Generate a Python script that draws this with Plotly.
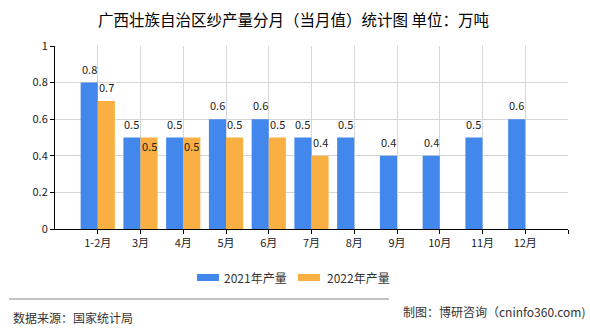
import plotly.graph_objects as go

categories = ["1-2月", "3月", "4月", "5月", "6月", "7月", "8月", "9月", "10月", "11月", "12月"]
values_2021 = [0.8, 0.5, 0.5, 0.6, 0.6, 0.5, 0.5, 0.4, 0.4, 0.5, 0.6]
values_2022 = [0.7, 0.5, 0.5, 0.5, 0.5, 0.4]
y_ticks = [0, 0.2, 0.4, 0.6, 0.8, 1]
y_ticktext = ["0", "0.2", "0.4", "0.6", "0.8", "1"]
series_names = ["2021年产量", "2022年产量"]

BLUE = "#4287EC"
ORANGE = "#F9AF42"
FONT = "Noto Sans CJK SC"

W, H = 590, 330
L, R, T, B = 55, 22, 46, 101
PW, PH = W - L - R, H - T - B


def px(x):
    return (x - L) / PW


def py(y):
    return (H - B - y) / PH


idx21 = list(range(len(values_2021)))
idx22 = list(range(len(values_2022)))

fig = go.Figure()
fig.add_trace(go.Bar(x=idx21, y=values_2021, width=0.4, offset=-0.4,
                     marker=dict(color=BLUE, line=dict(width=0)), name=series_names[0],
                     showlegend=False, hoverinfo="skip"))
fig.add_trace(go.Bar(x=idx22, y=values_2022, width=0.4, offset=0,
                     marker=dict(color=ORANGE, line=dict(width=0)), name=series_names[1],
                     showlegend=False, hoverinfo="skip"))

annotations = []
lab_font = dict(family=FONT, size=11, color="#222")
for i, v in enumerate(values_2021):
    annotations.append(dict(x=i - 0.2, y=v, xref="x", yref="y", text=f"{v:.1f}",
                            showarrow=False, yanchor="bottom", yshift=4, font=lab_font))
for i, v in enumerate(values_2022):
    collide = abs(v - values_2021[i]) < 1e-9
    annotations.append(dict(x=i + 0.2, y=v, xref="x", yref="y", text=f"{v:.1f}",
                            showarrow=False, yanchor="middle" if collide else "bottom",
                            yshift=-8 if collide else 4, font=lab_font))

# title
annotations.append(dict(x=px(293), y=py(19), xref="paper", yref="paper", text="广西壮族自治区纱产量分月（当月值）统计图 单位：万吨",
                        showarrow=False, xanchor="center", yanchor="middle",
                        font=dict(family=FONT, size=15.5, color="#000")))
# legend texts
annotations.append(dict(x=px(222), y=py(277.5), xref="paper", yref="paper", text=series_names[0],
                        showarrow=False, xanchor="left", yanchor="middle",
                        font=dict(family=FONT, size=12, color="#333")))
annotations.append(dict(x=px(325), y=py(277.5), xref="paper", yref="paper", text=series_names[1],
                        showarrow=False, xanchor="left", yanchor="middle",
                        font=dict(family=FONT, size=12, color="#333")))
# source texts
annotations.append(dict(x=px(11), y=py(317), xref="paper", yref="paper", text="数据来源：国家统计局",
                        showarrow=False, xanchor="left", yanchor="middle",
                        font=dict(family=FONT, size=12, color="#333")))
annotations.append(dict(x=px(401), y=py(311), xref="paper", yref="paper", text="制图：博研咨询（cninfo360.com)",
                        showarrow=False, xanchor="left", yanchor="middle",
                        font=dict(family=FONT, size=12, color="#333")))

shapes = [
    dict(type="rect", xref="paper", yref="paper", x0=px(197), x1=px(219), y0=py(281), y1=py(274),
         fillcolor=BLUE, line=dict(width=0)),
    dict(type="rect", xref="paper", yref="paper", x0=px(298), x1=px(320), y0=py(281), y1=py(274),
         fillcolor=ORANGE, line=dict(width=0)),
    dict(type="line", xref="paper", yref="paper", x0=px(9), x1=px(389), y0=py(299), y1=py(299),
         line=dict(color="#888", width=1)),
]

n = len(categories)
fig.update_layout(
    width=W, height=H,
    margin=dict(l=L, r=R, t=T, b=B),
    paper_bgcolor="white", plot_bgcolor="white",
    barmode="overlay",
    showlegend=False,
    annotations=annotations,
    shapes=shapes,
    xaxis=dict(range=[-1, n], tickvals=list(range(n + 1)), ticktext=categories + [""],
               showgrid=True, gridcolor="#d6d6d6", gridwidth=1, zeroline=False,
               showline=True, linecolor="#000", linewidth=1,
               ticks="outside", ticklen=4, tickcolor="#000",
               tickfont=dict(family=FONT, size=11, color="#222")),
    yaxis=dict(range=[0, 1], tickvals=y_ticks, ticktext=y_ticktext,
               showgrid=True, gridcolor="#d6d6d6", gridwidth=1, zeroline=False,
               showline=True, linecolor="#000", linewidth=1,
               ticks="outside", ticklen=4, tickcolor="#000",
               tickfont=dict(family=FONT, size=11, color="#222")),
)

fig.write_html("out.html")
